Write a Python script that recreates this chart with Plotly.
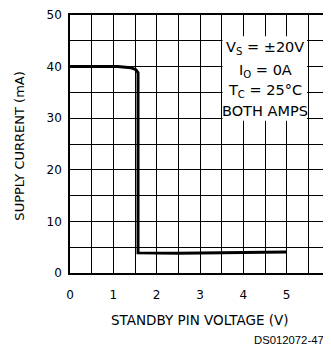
import plotly.graph_objects as go

# Data
pin_voltage = [0.0, 1.1, 1.4, 1.52, 1.57, 1.57, 2.5, 5.0]
supply_current = [40.0, 40.0, 39.8, 39.4, 38.8, 3.9, 3.85, 4.05]

x_ticks = [0, 1, 2, 3, 4, 5, 6]
y_ticks = [0, 10, 20, 30, 40, 50]

cond_lines = ["V<sub>S</sub> = ±20V", "I<sub>O</sub> = 0A", "T<sub>C</sub> = 25°C", "BOTH AMPS"]
cond_y = [43.7, 39.2, 35.2, 31.3]

FONT = "DejaVu Sans"

fig = go.Figure()
fig.add_trace(go.Scatter(x=pin_voltage, y=supply_current, mode="lines",
                         line=dict(color="black", width=3), showlegend=False,
                         hoverinfo="skip"))

# white box behind the condition text, covering grid lines
fig.add_shape(type="rect", xref="x", yref="y", x0=3.52, x1=5.47, y0=29.5, y1=45.9,
              fillcolor="white", line=dict(width=0), layer="above")

for t, yy in zip(cond_lines, cond_y):
    fig.add_annotation(x=4.5, y=yy, xref="x", yref="y", text=t, showarrow=False,
                       font=dict(family=FONT, size=14.5, color="black"))

# axis titles
fig.add_annotation(x=0.5, y=-0.181, xref="paper", yref="paper", xanchor="center",
                   yanchor="middle", text="STANDBY PIN VOLTAGE (V)", showarrow=False,
                   font=dict(family=FONT, size=13.5, color="black"))
fig.add_annotation(x=-0.193, y=0.493, xref="paper", yref="paper", xanchor="center",
                   yanchor="middle", text="SUPPLY CURRENT (mA)", textangle=-90,
                   showarrow=False, font=dict(family=FONT, size=13, color="black"))

fig.add_annotation(x=1.0, y=-0.2585, xref="paper", yref="paper", xanchor="right",
                   yanchor="middle", text="DS012072-47", showarrow=False, xshift=-4,
                   font=dict(family="Liberation Sans", size=11.3, color="black"))

axis_common = dict(showline=True, mirror=True, linecolor="black", linewidth=1.5,
                   showgrid=True, gridcolor="black", gridwidth=1, zeroline=False,
                   automargin=False, ticks="outside", tickcolor="rgba(0,0,0,0)",
                   tickfont=dict(family=FONT, size=12, color="black"))

fig.update_xaxes(range=[0, 6], tickvals=x_ticks, ticktext=[str(v) for v in x_ticks],
                 ticklen=10,
                 minor=dict(dtick=0.5, showgrid=True, gridcolor="black", gridwidth=1,
                            ticks=""),
                 **axis_common)
fig.update_yaxes(range=[0, 50], tickvals=y_ticks, ticktext=[str(v) for v in y_ticks],
                 ticklen=4,
                 minor=dict(dtick=5, showgrid=True, gridcolor="black", gridwidth=1,
                            ticks=""),
                 **axis_common)

# page body has an 8px margin, so the figure is sized/offset to compensate
fig.update_layout(width=323, height=343, margin=dict(l=62, r=1, t=7, b=78),
                  paper_bgcolor="white", plot_bgcolor="white")

fig.write_html("out.html")
